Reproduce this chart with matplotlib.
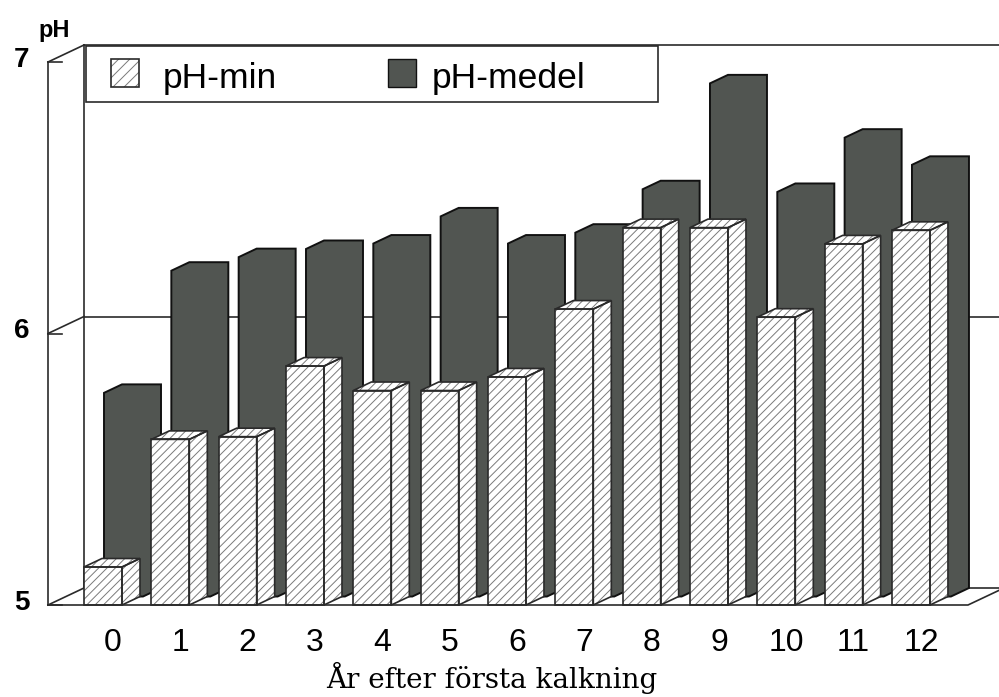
import matplotlib
matplotlib.use("Agg")
import matplotlib.pyplot as plt
from matplotlib.patches import Polygon, Rectangle

# --- data ---
years = [0, 1, 2, 3, 4, 5, 6, 7, 8, 9, 10, 11, 12]
ph_min = [5.14, 5.61, 5.62, 5.88, 5.79, 5.79, 5.84, 6.09, 6.39, 6.39, 6.06, 6.33, 6.38]
ph_medel = [5.75, 6.20, 6.25, 6.28, 6.30, 6.40, 6.30, 6.34, 6.50, 6.89, 6.49, 6.69, 6.59]
y_ticks = [5, 6, 7]
x_title = "År efter första kalkning"

DARK = "#515551"
EDGE = "#2a2a2a"
HATCH = "#7a7a7a"

plt.rcParams["hatch.linewidth"] = 0.7

# pixel -> data scales (one category = 67.33 px, one pH unit = 271.5 px)
PX_X = 1 / 67.33
PX_Y = 1 / 271.5
DEPTH_X, DEPTH_Y = 18 * PX_X, 8.5 * PX_Y      # depth of one bar
WALL_X, WALL_Y = 2 * DEPTH_X, 2 * DEPTH_Y     # depth of the whole floor
LEFT_X = -55 * PX_X                           # front edge of left wall
RIGHT_X = 865 * PX_X                          # front right corner of floor
BASE = 5.0

fig = plt.figure(figsize=(9.99, 6.97), dpi=100)
ax = fig.add_axes([0, 0, 1, 1])
ax.set_xlim(-103 * PX_X, 896 * PX_X)
ax.set_ylim(BASE - 92 * PX_Y, BASE + 605 * PX_Y)
ax.axis("off")

line_kw = dict(color=EDGE, lw=1.2, zorder=1)

# walls and floor
back_x = LEFT_X + WALL_X
ax.plot([LEFT_X, LEFT_X], [y_ticks[0], y_ticks[-1]], **line_kw)
ax.plot([back_x, back_x], [y_ticks[0] + WALL_Y, y_ticks[-1] + WALL_Y], **line_kw)
for v in y_ticks:
    ax.plot([LEFT_X, back_x], [v, v + WALL_Y], **line_kw)
    ax.plot([back_x, 20], [v + WALL_Y, v + WALL_Y], **line_kw)
    ax.plot([LEFT_X, LEFT_X + 14 * PX_X], [v, v], **line_kw)
    ax.text(LEFT_X - 26 * PX_X, v + 2 * PX_Y, str(v), ha="center", va="center",
            fontsize=20, fontweight="bold", family="Liberation Sans")
ax.plot([LEFT_X, RIGHT_X, RIGHT_X + WALL_X], [BASE, BASE, BASE + WALL_Y],
        color=EDGE, lw=1.2, zorder=6)

ax.text(LEFT_X - 10 * PX_X, BASE + 568 * PX_Y, "pH", ha="left", va="baseline",
        fontsize=17, fontweight="bold", family="Liberation Sans")


def box_outline(x0, w, b, t):
    return [(x0, b), (x0, t), (x0 + DEPTH_X, t + DEPTH_Y),
            (x0 + w + DEPTH_X, t + DEPTH_Y), (x0 + w + DEPTH_X, b + DEPTH_Y),
            (x0 + w, b)]


# back row: pH-medel (solid dark boxes)
for i, v in zip(range(len(years)), ph_medel):
    x0 = i + 1 * PX_X
    w = 39 * PX_X
    ax.add_patch(Polygon(box_outline(x0, w, BASE + DEPTH_Y, v + DEPTH_Y),
                         closed=True, facecolor=DARK, edgecolor="#111111",
                         lw=1.4, zorder=2))

# front row: pH-min (hatched boxes, three faces)
for i, v in zip(range(len(years)), ph_min):
    x0 = i - 19 * PX_X
    w = 38 * PX_X
    front = [(x0, BASE), (x0, v), (x0 + w, v), (x0 + w, BASE)]
    side = [(x0 + w, BASE), (x0 + w, v), (x0 + w + DEPTH_X, v + DEPTH_Y),
            (x0 + w + DEPTH_X, BASE + DEPTH_Y)]
    top = [(x0, v), (x0 + DEPTH_X, v + DEPTH_Y),
           (x0 + w + DEPTH_X, v + DEPTH_Y), (x0 + w, v)]
    for face in (front, side, top):
        ax.add_patch(Polygon(face, closed=True, facecolor="white",
                             edgecolor=HATCH, hatch="////", lw=0, zorder=3))
        ax.add_patch(Polygon(face, closed=True, fill=False,
                             edgecolor=EDGE, lw=1.2, zorder=4))

# category labels and axis title
for i, yr in enumerate(years):
    ax.text(i + 10 * PX_X, BASE - 38 * PX_Y, str(yr), ha="center", va="center",
            fontsize=23, family="Liberation Sans")
ax.text(0.5 * (years[0] + years[-1]) - 0.22, BASE - 83 * PX_Y, x_title,
        ha="center", va="baseline", fontsize=20, family="DejaVu Serif")

# legend box
H = 697
W = 999
ax.add_patch(Rectangle((86 / W, 1 - 102 / H), (658 - 86) / W, 56 / H,
                       transform=ax.transAxes, facecolor="white",
                       edgecolor=EDGE, lw=1.2, zorder=5))
ax.add_patch(Rectangle((111 / W, 1 - 87 / H), 28 / W, 28 / H,
                       transform=ax.transAxes, facecolor="white",
                       edgecolor=HATCH, hatch="///", lw=0, zorder=6))
ax.add_patch(Rectangle((111 / W, 1 - 87 / H), 28 / W, 28 / H,
                       transform=ax.transAxes, fill=False,
                       edgecolor=EDGE, lw=1.2, zorder=7))
ax.add_patch(Rectangle((388 / W, 1 - 87 / H), 28 / W, 28 / H,
                       transform=ax.transAxes, facecolor=DARK,
                       edgecolor="#111111", lw=1.0, zorder=6))
ax.text(163 / W, 1 - 88 / H, "pH-min", transform=ax.transAxes,
        fontsize=25.5, family="Liberation Sans", va="baseline", zorder=7)
ax.text(432 / W, 1 - 88 / H, "pH-medel", transform=ax.transAxes,
        fontsize=25.5, family="Liberation Sans", va="baseline", zorder=7)

fig.savefig("out.png", dpi=100)
